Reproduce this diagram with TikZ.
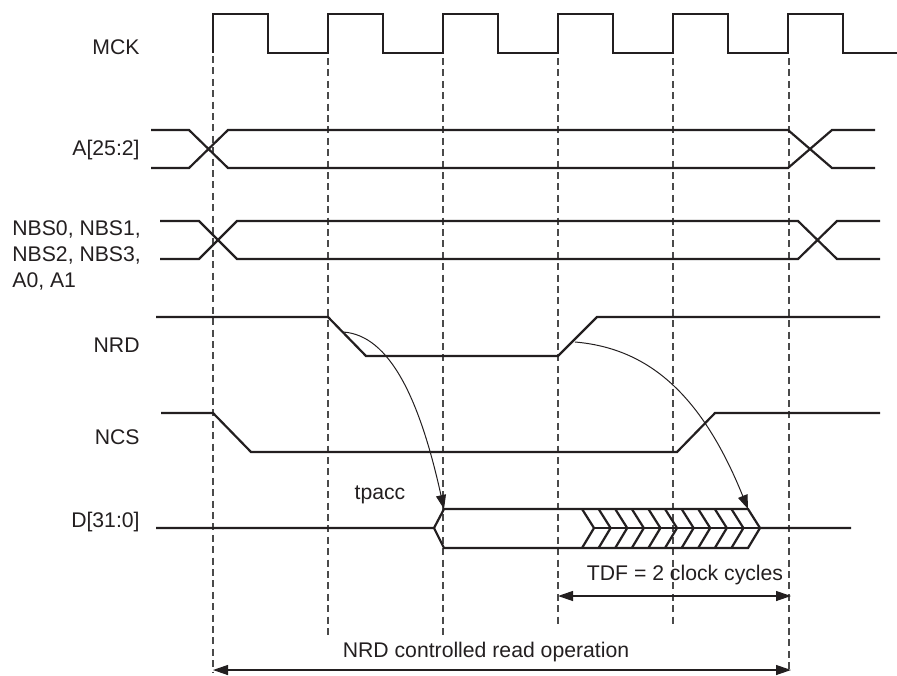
\documentclass[tikz,border=0pt]{standalone}
\usepackage{fontspec}
\setmainfont{Liberation Sans}
\usetikzlibrary{arrows.meta}
\definecolor{ink}{HTML}{231F20}
\definecolor{grd}{HTML}{4A4A4A}
\tikzset{
  sig/.style={ink, line width=1.1pt, line join=miter},
  grid/.style={grd, line width=0.65pt, dash pattern=on 3.5pt off 2.2pt},
  dep/.style={ink, line width=0.5pt, -{Triangle[length=7pt,width=5pt]}},
  dim/.style={ink, line width=0.6pt, {Triangle[length=7.5pt,width=5pt]}-{Triangle[length=7.5pt,width=5pt]}},
  lab/.style={ink, font=\fontsize{10.6}{13}\selectfont, inner sep=0pt},
}

\begin{document}
\begin{tikzpicture}[x=0.5pt,y=-0.5pt]
\useasboundingbox (0,0) rectangle (897,675);

% ===================== signal names ========================
\node[lab, anchor=east] (mck) at (140,47) {MCK};
\node[lab, anchor=east] (addr) at (140,150) {A[25:2]};
\node[lab, anchor=north west, align=left] (nbs) at (12,220) {NBS0, NBS1,\\NBS2, NBS3,\\A0, A1};
\node[lab, anchor=east] (nrd) at (140,345) {NRD};
\node[lab, anchor=east] (ncs) at (140,437) {NCS};
\node[lab, anchor=east] (data) at (140,522) {D[31:0]};

% ===================== clock and grid ========================
\draw[sig] (213,53) \foreach \k in {0,...,4}
  {-- (213+115*\k,14) -- (268+115*\k,14) -- (268+115*\k,53) -- (328+115*\k,53)}
  -- (788,14) -- (843,14) -- (843,53) -- (897,53);
% dashed reference lines on the rising edges
\draw[grid] (213,56) -- (213,672);
\draw[grid] (328,58) -- (328,638);
\draw[grid] (443,58) -- (443,638);
\draw[grid] (558,58) -- (558,627);
\draw[grid] (673,58) -- (673,627);
\draw[grid] (789,58) -- (789,672);

% ===================== buses ========================
% A[25:2]
\draw[sig] (151,130) -- (189,130) -- (228,168) -- (788,168) -- (832,130) -- (875,130);
\draw[sig] (151,168) -- (189,168) -- (228,130) -- (788,130) -- (832,168) -- (875,168);
% NBS0..3, A0, A1
\draw[sig] (160,221) -- (199,221) -- (237,259) -- (798,259) -- (837,221) -- (880,221);
\draw[sig] (160,259) -- (199,259) -- (237,221) -- (798,221) -- (837,259) -- (880,259);

% ===================== strobes ========================
\draw[sig] (156,317) -- (328,317) -- (366,356) -- (558,356) -- (597,317) -- (880,317);
\draw[sig] (161,413) -- (213,413) -- (251,452) -- (677,452) -- (715,413) -- (880,413);

% ===================== data bus ========================
\draw[sig] (156,528) -- (434,528) -- (444,509) -- (748,509) -- (760,528) -- (851,528);
\draw[sig] (434,528) -- (444,548) -- (748,548) -- (760,528);
% hold time (tdf) hatching
\foreach \k in {0,...,9}
  \draw[sig] (582+16.6*\k,509) -- ++(12,19) -- ++(-12,20);
\draw[sig] (594,528) -- (760,528);

% ===================== timing relations ========================
\coordinate (rdfall) at (343,332);
\coordinate (rdrise) at (575,342);
\coordinate (dvalid) at (444,509);
\coordinate (dfloat) at (748,509);
\draw[dep] (rdfall) .. controls (390,335) and (420,400) .. (dvalid);
\draw[dep] (rdrise) .. controls (645,348) and (700,390) .. (dfloat);
\node[lab] (tpacc) at (380,495) {tpacc};

% TDF
\coordinate (tdfa) at (558,596);
\coordinate (tdfb) at (791,596);
\draw[dim] (tdfa) -- (tdfb);
\node[lab] (tdf) at (685,575) {TDF = 2 clock cycles};

% whole read access
\coordinate (opa) at (213,670);
\coordinate (opb) at (791,670);
\draw[dim] (opa) -- (opb);
\node[lab] (op) at (486,652) {NRD controlled read operation};

\end{tikzpicture}
\end{document}
